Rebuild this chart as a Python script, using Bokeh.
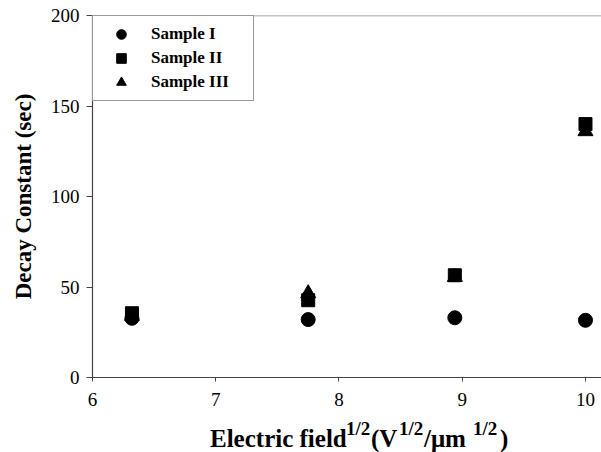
from bokeh.plotting import figure
from bokeh.models import Range1d, Span, Legend, LegendItem, FixedTicker, Div
from bokeh.layouts import column
from bokeh.embed import file_html
from bokeh.resources import INLINE

# Data (x = sqrt(E field), y = decay constant in sec)
field_sqrt = [6.32, 7.75, 8.94, 10.0]
sample1 = [32.7, 32.0, 33.0, 31.6]
sample2 = [35.5, 42.7, 56.5, 140.0]
sample3 = [34.0, 46.5, 55.5, 136.0]
x_ticks = [6, 7, 8, 9, 10]
y_ticks = [0, 50, 100, 150, 200]

# x-axis title pieces (main text and superscripts)
xlabel_main = ["Electric field", "(V", "/\u03bcm", ")"]
xlabel_sup = ["1/2", "1/2", "1/2"]

SERIF = "Liberation Serif"

p = figure(width=601, height=412, output_backend="svg", toolbar_location=None,
           x_range=Range1d(6, 10.13), y_range=Range1d(0, 200),
           min_border_left=92, min_border_right=0, min_border_top=15,
           min_border_bottom=35, margin=0)
p.outline_line_color = None
p.xgrid.visible = False
p.ygrid.visible = False
p.background_fill_color = "white"
p.border_fill_color = "white"

r3 = p.scatter(field_sqrt, sample3, marker="triangle", size=15, color="black")
r2 = p.scatter(field_sqrt, sample2, marker="square", size=13, color="black")
r1 = p.scatter(field_sqrt, sample1, marker="circle", size=14, color="black")

# top frame line
p.add_layout(Span(location=200, dimension="width", line_color="#888888", line_width=1.5))

p.axis.axis_line_color = "#444444"
p.axis.axis_line_width = 1.2
p.axis.major_tick_line_color = "#444444"
p.axis.minor_tick_line_color = None
p.axis.major_tick_in = 0
p.axis.major_label_text_font = SERIF
p.axis.major_label_text_font_size = "19px"
p.axis.major_label_text_color = "black"

p.xaxis.ticker = FixedTicker(ticks=x_ticks)
p.yaxis.ticker = FixedTicker(ticks=y_ticks)
p.xaxis.major_tick_out = 4
p.yaxis.major_tick_out = 6
p.xaxis.major_label_standoff = 11
p.yaxis.major_label_standoff = 7

p.yaxis.axis_label = "Decay Constant (sec)"
p.yaxis.axis_label_text_font = SERIF
p.yaxis.axis_label_text_font_style = "bold"
p.yaxis.axis_label_text_font_size = "23px"
p.yaxis.axis_label_text_color = "black"
p.yaxis.axis_label_standoff = 12

legend = Legend(items=[LegendItem(label="Sample I", renderers=[r1]),
                       LegendItem(label="Sample II", renderers=[r2]),
                       LegendItem(label="Sample III", renderers=[r3])],
                location="top_left", margin=0, padding=6, spacing=0,
                glyph_width=44, glyph_height=24, label_height=24,
                label_standoff=8, label_width=96,
                label_text_font=SERIF, label_text_font_style="bold",
                label_text_font_size="17px", label_text_color="black",
                border_line_color="#333333", border_line_width=1.2,
                background_fill_alpha=1.0)
p.add_layout(legend)

# x-axis title strip (HTML text with superscripts)
main_left = [210, 371, 424, 500]
sup_left = [346, 399, 473]
spans = []
for t, lx in zip(xlabel_main, main_left):
    spans.append(
        f'<span style="position:absolute;left:{lx}px;top:14px;font-size:25px;line-height:1;">{t}</span>')
for t, lx in zip(xlabel_sup, sup_left):
    spans.append(
        f'<span style="position:absolute;left:{lx}px;top:7px;font-size:19px;line-height:1;">{t}</span>')
html = ('<div style="position:relative;width:601px;height:40px;white-space:nowrap;'
        "font-family:'Liberation Serif';font-weight:bold;color:black;background:white;\">"
        + "".join(spans) + "</div>")
d = Div(text=html, width=601, height=40, margin=0)

layout = column(p, d, spacing=0)
open("out.html", "w").write(file_html(layout, INLINE))
